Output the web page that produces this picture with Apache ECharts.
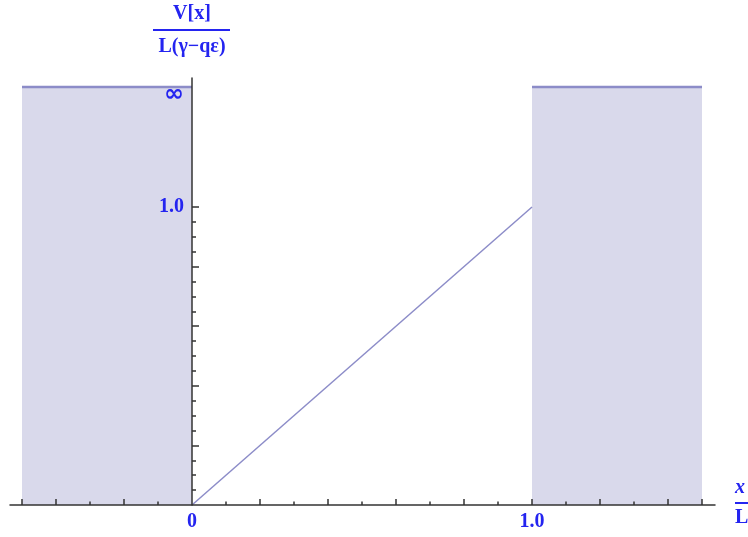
<!DOCTYPE html>
<html>
<head>
<meta charset="utf-8">
<script src="https://cdn.jsdelivr.net/npm/echarts@6/dist/echarts.min.js"></script>
<style>html,body{margin:0;padding:0;background:#fff}#c{width:748px;height:537px}</style>
</head>
<body>
<div id="c"></div>
<script>
// Data
const rampLine = [[0, 0], [1, 1]];
const infLevel = 1.403;            // plotted height of "∞"
const leftWall = [[-0.5, infLevel], [0, infLevel]];
const rightWall = [[1, infLevel], [1.5, infLevel]];
const xMajorTicks = [-0.5, -0.4, -0.2, 0.2, 0.4, 0.6, 0.8, 1.0, 1.2, 1.4, 1.5];
const xMinorTicks = [-0.3, -0.1, 0.1, 0.3, 0.5, 0.7, 0.9, 1.1, 1.3];
const xLabels = [0, 1.0];
const yMajorTicks = [0.2, 0.4, 0.6, 0.8, 1.0];
const yMinorTicks = [0.05, 0.1, 0.15, 0.25, 0.3, 0.35, 0.45, 0.5, 0.55, 0.65, 0.7, 0.75, 0.85, 0.9, 0.95];
const yLabels = [1.0, 1.375];

const blue = '#2424f0';
const fillC = '#d9d9eb';
const lineC = '#8c8cc8';
const axisC = '#333';
const serif = '"Liberation Serif", "DejaVu Serif", serif';

const chart = echarts.init(document.getElementById('c'));
const xMin = -0.5353, xMax = 1.5382, yMax = 1.4329;
const tickStyle = { color: axisC, width: 1.5 };
chart.setOption({
  animation: false,
  grid: [
    { left: 10, right: 33, top: 78, bottom: 32, containLabel: false, outerBoundsMode: 'none' },
    { left: 192, right: 33, top: 78, bottom: 32, containLabel: false, outerBoundsMode: 'none' }
  ],
  xAxis: [
    { type: 'value', gridIndex: 0, min: xMin, max: xMax, position: 'bottom', z: 5,
      axisLine: { show: true, onZero: false, lineStyle: { color: axisC, width: 1.5 } },
      axisTick: { show: true, inside: true, length: 6, customValues: xMajorTicks, lineStyle: tickStyle },
      axisLabel: { show: true, customValues: xLabels, margin: 7, color: blue, fontFamily: serif, fontWeight: 'bold', fontSize: 20,
        formatter: v => (v === 0 ? '0' : v.toFixed(1)) },
      splitLine: { show: false } },
    { type: 'value', gridIndex: 0, min: xMin, max: xMax, position: 'bottom', z: 5,
      axisLine: { show: false, onZero: false },
      axisTick: { show: true, inside: true, length: 3.5, customValues: xMinorTicks, lineStyle: tickStyle },
      axisLabel: { show: false }, splitLine: { show: false } },
    { type: 'value', gridIndex: 1, min: 0, max: 1, show: false }
  ],
  yAxis: [
    { type: 'value', gridIndex: 0, min: 0, max: yMax, show: false },
    { type: 'value', gridIndex: 1, min: 0, max: yMax, position: 'left', z: 5,
      axisLine: { show: true, onZero: false, lineStyle: { color: axisC, width: 1.5 } },
      axisTick: { show: true, inside: true, length: 7, customValues: yMajorTicks, lineStyle: tickStyle },
      axisLabel: { show: true, customValues: yLabels, margin: 8, color: blue, fontFamily: serif, fontWeight: 'bold', fontSize: 20,
        formatter: v => (v > 1.2 ? '{inf|∞}' : v.toFixed(1)),
        rich: { inf: { fontSize: 24, fontWeight: 'bold', color: blue, fontFamily: '"DejaVu Sans", sans-serif' } } },
      splitLine: { show: false } },
    { type: 'value', gridIndex: 1, min: 0, max: yMax, position: 'left', z: 5,
      axisLine: { show: false, onZero: false },
      axisTick: { show: true, inside: true, length: 4, customValues: yMinorTicks, lineStyle: tickStyle },
      axisLabel: { show: false }, splitLine: { show: false } }
  ],
  series: [
    { type: 'line', xAxisIndex: 0, yAxisIndex: 0, data: leftWall, showSymbol: false, symbol: 'none', z: 1,
      lineStyle: { color: lineC, width: 2.5 }, areaStyle: { color: fillC, origin: 'start', opacity: 1 } },
    { type: 'line', xAxisIndex: 0, yAxisIndex: 0, data: rightWall, showSymbol: false, symbol: 'none', z: 1,
      lineStyle: { color: lineC, width: 2.5 }, areaStyle: { color: fillC, origin: 'start', opacity: 1 } },
    { type: 'line', xAxisIndex: 0, yAxisIndex: 0, data: rampLine, showSymbol: false, symbol: 'none', z: 3,
      lineStyle: { color: lineC, width: 1.5 } }
  ],
  graphic: [
    { type: 'text', x: 192, y: 14, style: { text: 'V[x]', fill: blue, font: 'bold 20px ' + serif, textAlign: 'center', textVerticalAlign: 'middle' } },
    { type: 'line', shape: { x1: 153, y1: 30, x2: 230, y2: 30 }, style: { stroke: blue, lineWidth: 2 } },
    { type: 'text', x: 192, y: 47, style: { text: 'L(γ−qε)', fill: blue, font: 'bold 20px ' + serif, textAlign: 'center', textVerticalAlign: 'middle' } },
    { type: 'text', x: 735, y: 488, style: { text: 'x', fill: blue, font: 'italic bold 20px ' + serif, textAlign: 'left', textVerticalAlign: 'middle' } },
    { type: 'line', shape: { x1: 735, y1: 503, x2: 748, y2: 503 }, style: { stroke: blue, lineWidth: 2 } },
    { type: 'text', x: 735, y: 518, style: { text: 'L', fill: blue, font: 'bold 20px ' + serif, textAlign: 'left', textVerticalAlign: 'middle' } }
  ]
});
</script>
</body>
</html>
